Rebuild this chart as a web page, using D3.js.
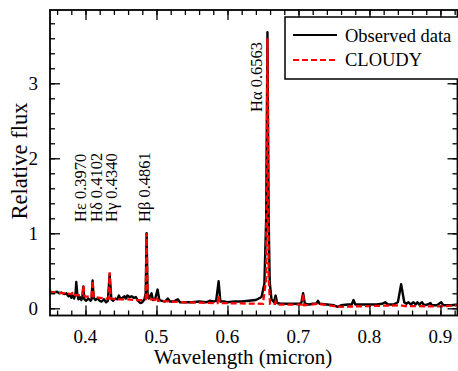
<!DOCTYPE html>
<html><head><meta charset="utf-8">
<script src="https://cdn.jsdelivr.net/npm/d3@7"></script>
<style>body{margin:0;background:#fff}svg{display:block}text{font-family:"Liberation Serif","Times New Roman",serif}</style>
</head><body><svg id="c" width="458" height="371"></svg>
<script>
// Observed spectrum: wavelength (micron), relative flux
const obsWave = [0.350,0.355,0.360,0.363,0.366,0.370,0.373,0.376,0.378,0.380,0.382,0.384,0.386,0.387,0.3885,0.390,0.392,0.394,0.3955,0.397,0.3985,0.401,0.404,0.407,0.4085,0.410,0.4115,0.414,0.417,0.420,0.423,0.426,0.429,0.4315,0.434,0.4365,0.439,0.442,0.445,0.447,0.449,0.452,0.455,0.457,0.459,0.462,0.465,0.468,0.471,0.474,0.477,0.480,0.483,0.4848,0.4861,0.4874,0.489,0.491,0.493,0.495,0.498,0.5015,0.504,0.508,0.512,0.516,0.519,0.524,0.530,0.533,0.540,0.550,0.560,0.570,0.575,0.580,0.584,0.5875,0.590,0.595,0.600,0.610,0.620,0.630,0.640,0.648,0.652,0.6545,0.6563,0.658,0.6595,0.662,0.6655,0.6678,0.670,0.675,0.680,0.690,0.700,0.704,0.7065,0.709,0.715,0.720,0.725,0.7275,0.730,0.740,0.750,0.755,0.760,0.770,0.775,0.7775,0.780,0.790,0.800,0.810,0.818,0.822,0.826,0.834,0.840,0.8446,0.849,0.852,0.855,0.858,0.862,0.865,0.8675,0.870,0.874,0.877,0.882,0.886,0.888,0.895,0.901,0.904,0.915,0.925];
const obsFlux = [0.22,0.21,0.22,0.20,0.21,0.19,0.20,0.16,0.18,0.14,0.17,0.13,0.20,0.35,0.18,0.12,0.15,0.11,0.14,0.29,0.12,0.10,0.13,0.10,0.12,0.37,0.14,0.11,0.13,0.10,0.09,0.12,0.08,0.10,0.45,0.12,0.10,0.13,0.12,0.17,0.13,0.14,0.16,0.13,0.17,0.15,0.16,0.14,0.15,0.10,0.07,0.08,0.12,0.20,1.00,0.20,0.13,0.16,0.20,0.11,0.12,0.25,0.11,0.10,0.09,0.13,0.09,0.09,0.12,0.08,0.08,0.08,0.09,0.08,0.10,0.09,0.10,0.36,0.09,0.09,0.08,0.09,0.09,0.10,0.11,0.15,0.33,1.20,3.68,1.20,0.35,0.12,0.08,0.17,0.07,0.06,0.06,0.06,0.06,0.07,0.20,0.06,0.05,0.06,0.06,0.10,0.06,0.05,0.04,0.02,0.04,0.05,0.05,0.11,0.05,0.05,0.05,0.05,0.06,0.08,0.05,0.05,0.08,0.32,0.08,0.06,0.08,0.05,0.08,0.05,0.08,0.05,0.08,0.04,0.05,0.07,0.04,0.04,0.08,0.04,0.04,0.05];
// CLOUDY model spectrum
const modWave = [0.350,0.360,0.370,0.380,0.383,0.385,0.3955,0.397,0.3985,0.4085,0.410,0.4115,0.420,0.430,0.4325,0.434,0.4355,0.445,0.460,0.470,0.480,0.4848,0.4861,0.4874,0.4959,0.500,0.5007,0.502,0.520,0.540,0.560,0.580,0.586,0.5876,0.589,0.620,0.650,0.6545,0.6563,0.658,0.660,0.667,0.6678,0.669,0.700,0.705,0.7065,0.708,0.7275,0.750,0.760,0.800,0.844,0.850,0.900,0.925];
const modFlux = [0.22,0.21,0.20,0.19,0.22,0.18,0.17,0.30,0.16,0.15,0.37,0.15,0.14,0.13,0.13,0.48,0.13,0.12,0.12,0.11,0.11,0.12,1.00,0.12,0.12,0.10,0.14,0.10,0.09,0.08,0.075,0.07,0.07,0.17,0.07,0.065,0.06,0.40,3.60,0.40,0.06,0.06,0.09,0.05,0.05,0.05,0.20,0.04,0.06,0.03,0.02,0.03,0.04,0.03,0.025,0.04];
const xTickLabels = [0.4,0.5,0.6,0.7,0.8,0.9];
const yTickLabels = [0,1,2,3];
const lineNames = ["H\u03b5 0.3970","H\u03b4 0.4102","H\u03b3 0.4340","H\u03b2 0.4861","H\u03b1 0.6563"];
const lineWaves = [0.3970,0.4102,0.4340,0.4861,0.6563];
const legendNames = ["Observed data","CLOUDY"];

const svg = d3.select("#c");
const L=50, R=457.5, T=10, B=315.5;
const x = d3.scaleLinear().domain([0.35,0.924]).range([L,R]);
const y = d3.scaleLinear().domain([-0.096,3.977]).range([B,T]);

svg.append("defs").append("clipPath").attr("id","clip").append("rect")
  .attr("x",L).attr("y",T).attr("width",R-L).attr("height",B-T);

const obs = obsWave.map((w,i)=>[w,obsFlux[i]]);
const mod = modWave.map((w,i)=>[w,modFlux[i]]);
const line = d3.line().x(d=>x(d[0])).y(d=>y(d[1]));
const g = svg.append("g").attr("clip-path","url(#clip)");
g.append("path").attr("d",line(obs)).attr("fill","none").attr("stroke","#000").attr("stroke-width",2.4).attr("stroke-linejoin","round");
g.append("path").attr("d",line(mod)).attr("fill","none").attr("stroke","#ff0000").attr("stroke-width",2.3).attr("stroke-dasharray","6,3");

// axes with minor/major ticks on all sides
const xMinor = d3.range(0.36,0.925,0.02).map(v=>+v.toFixed(2));
const yMinor = d3.range(0,3.97,0.2).map(v=>+v.toFixed(1));
function tickAxis(axisFn, scale, vals, size, tr){
  const a = axisFn(scale).tickValues(vals).tickSize(size).tickFormat("");
  const gg = svg.append("g").attr("transform",tr).call(a);
  gg.select(".domain").remove();
  gg.selectAll("line").attr("stroke","#000").attr("stroke-width",1.3);
}
tickAxis(d3.axisTop, x, xMinor, 5, `translate(0,${B})`);
tickAxis(d3.axisTop, x, xTickLabels, 10, `translate(0,${B})`);
tickAxis(d3.axisBottom, x, xMinor, 5, `translate(0,${T})`);
tickAxis(d3.axisBottom, x, xTickLabels, 10, `translate(0,${T})`);
tickAxis(d3.axisRight, y, yMinor, 5, `translate(${L},0)`);
tickAxis(d3.axisRight, y, yTickLabels, 10, `translate(${L},0)`);
tickAxis(d3.axisLeft, y, yMinor, 5, `translate(${R},0)`);
tickAxis(d3.axisLeft, y, yTickLabels, 10, `translate(${R},0)`);

svg.append("rect").attr("x",L).attr("y",T).attr("width",R-L).attr("height",B-T)
  .attr("fill","none").attr("stroke","#000").attr("stroke-width",1.8);

// tick labels
svg.append("g").selectAll("text").data(xTickLabels).join("text")
  .attr("x",d=>x(d)).attr("y",343).attr("text-anchor","middle").attr("font-size",19).text(d=>d.toFixed(1));
svg.append("g").selectAll("text").data(yTickLabels).join("text")
  .attr("x",38).attr("y",d=>y(d)+6.5).attr("text-anchor","end").attr("font-size",19).text(d=>d);

// axis titles
svg.append("text").attr("x",243).attr("y",364).attr("text-anchor","middle").attr("font-size",21).text("Wavelength (micron)");
svg.append("text").attr("transform","translate(27,161) rotate(-90)").attr("text-anchor","middle").attr("font-size",22.5).text("Relative flux");

// line annotations
const annX = [86,102,117,150,262];
const annY = [222,222,222,222,112];
svg.append("g").selectAll("text").data(lineNames).join("text")
  .attr("transform",(d,i)=>`translate(${annX[i]},${annY[i]}) rotate(-90)`)
  .attr("font-size",16.5).text(d=>d);

// legend
const lg = svg.append("g");
lg.append("rect").attr("x",285).attr("y",17).attr("width",180).attr("height",62)
  .attr("fill","#fff").attr("stroke","#000").attr("stroke-width",1.5);
lg.append("line").attr("x1",293).attr("x2",337).attr("y1",35).attr("y2",35).attr("stroke","#000").attr("stroke-width",2.2);
lg.append("line").attr("x1",293).attr("x2",337).attr("y1",60).attr("y2",60).attr("stroke","#ff0000").attr("stroke-width",2.2).attr("stroke-dasharray","6,3");
lg.selectAll("text").data(legendNames).join("text")
  .attr("x",345).attr("y",(d,i)=>42+i*24).attr("font-size",18.5).text(d=>d);
</script></body></html>
